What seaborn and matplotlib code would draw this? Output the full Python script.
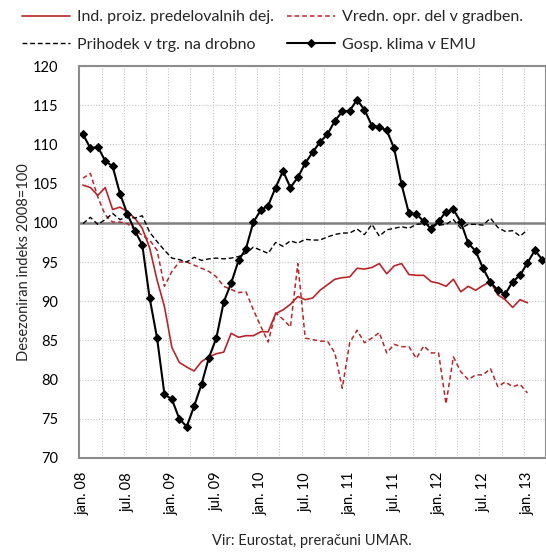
import numpy as np
import pandas as pd
import seaborn as sns
import matplotlib.pyplot as plt

# Monthly data jan.08 - mar.13, index 2008=100
months = pd.date_range('2008-01-01', '2013-03-01', freq='MS')

ind_proiz = [104.8, 104.5, 103.5, 104.5, 101.7, 102.0, 101.4, 100.6, 99.3, 96.8,
             92.7, 89.3, 84.1, 82.2, 81.6, 81.1, 82.3, 82.9, 83.3, 83.5,
             85.9, 85.4, 85.6, 85.6, 86.1, 86.1, 88.4, 88.9, 89.6, 90.6,
             90.2, 90.4, 91.4, 92.1, 92.8, 93.0, 93.1, 94.2, 94.1, 94.3,
             94.8, 93.5, 94.5, 94.8, 93.4, 93.3, 93.3, 92.5, 92.3, 91.9,
             92.8, 91.2, 91.9, 91.4, 92.0, 92.5, 90.8, 90.2, 89.2, 90.2,
             89.8]

vredn_gradb = [105.7, 106.3, 103.3, 101.0, 100.1, 100.1, 99.9, 99.1, 98.4, 97.8,
               96.5, 91.9, 93.8, 95.0, 95.0, 94.6, 94.2, 93.8, 93.1, 91.9,
               91.5, 91.1, 91.2, 88.9, 86.8, 84.8, 88.5, 87.7, 86.7, 94.8,
               85.3, 85.1, 84.9, 84.9, 83.4, 78.9, 84.7, 86.3, 84.7, 85.3,
               86.0, 83.4, 84.5, 84.2, 84.2, 82.7, 84.3, 83.4, 83.4, 76.9,
               82.9, 81.0, 80.0, 80.6, 80.6, 81.4, 79.1, 79.7, 79.1, 79.4,
               78.3]

prihodek = [99.9, 100.7, 99.8, 100.4, 101.2, 100.4, 100.8, 100.6, 100.9, 98.8,
            97.6, 96.5, 95.5, 95.3, 95.0, 95.6, 95.2, 95.4, 95.5, 95.4,
            95.5, 95.7, 96.1, 96.9, 96.5, 96.1, 97.5, 97.0, 97.7, 97.4,
            97.9, 97.8, 97.8, 98.2, 98.5, 98.7, 98.7, 99.2, 98.5, 99.8,
            98.3, 99.1, 99.3, 99.5, 99.3, 99.8, 99.9, 99.7, 99.7, 99.8,
            100.4, 99.3, 99.8, 99.8, 99.7, 100.6, 99.4, 98.9, 99.0, 98.3,
            99.1]

gosp_klima = [111.3, 109.5, 109.7, 107.9, 107.2, 103.7, 101.1, 99.0, 97.2, 90.4,
              85.3, 78.1, 77.5, 75.0, 74.0, 76.6, 79.4, 82.8, 85.3, 89.9,
              92.3, 95.2, 96.7, 100.1, 101.6, 102.2, 104.5, 106.6, 104.5, 105.8,
              107.6, 109.0, 110.3, 111.3, 113.0, 114.2, 114.3, 115.7, 114.4, 112.4,
              112.2, 111.8, 109.5, 104.9, 101.2, 101.1, 100.2, 99.2, 100.2, 101.4,
              101.7, 100.1, 97.4, 96.4, 94.2, 92.4, 91.4, 90.9, 92.5, 93.3,
              94.9, 96.5, 95.3]

month_names = ['jan.', 'jul.']
tick_labels = [f"{month_names[i % 2]} {8 + i // 2:02d}" for i in range(11)]

labels = ['Ind. proiz. predelovalnih dej.', 'Vredn. opr. del v gradben.',
          'Prihodek v trg. na drobno', 'Gosp. klima v EMU']

red = '#B8262C'

sns.set_style('white')
plt.rcParams['font.family'] = ['Lato', 'DejaVu Sans']

fig = plt.figure(figsize=(5.46, 5.52), dpi=100)
ax = fig.add_axes([0.1452, 0.1703, 0.8548, 0.7101])

idx = np.arange(len(months))
sns.lineplot(x=idx[:len(ind_proiz)], y=ind_proiz, ax=ax, color=red, lw=1.2,
             label=labels[0])
sns.lineplot(x=idx[:len(vredn_gradb)], y=vredn_gradb, ax=ax, color=red, lw=1.1,
             linestyle=(0, (3, 2)), label=labels[1])
sns.lineplot(x=idx[:len(prihodek)], y=prihodek, ax=ax, color='black', lw=1.0,
             linestyle=(0, (3.5, 2)), label=labels[2])
sns.lineplot(x=idx, y=gosp_klima, ax=ax, color='black', lw=1.5, marker='D',
             markersize=4.5, markeredgecolor='black', label=labels[3])

ax.set_xlim(-0.5, len(months) - 0.5)
ax.set_ylim(70, 120)
ax.set_yticks(np.arange(70, 121, 5))
ax.set_xticks(np.arange(0, 61, 6))
ax.set_xticklabels(tick_labels, rotation=90)
ax.set_xticks(np.arange(2.5, 60, 3), minor=True)

ax.grid(axis='y', which='major', color='#c4c4c4', linestyle=(0, (1, 1.5)), lw=0.8)
ax.grid(axis='x', which='minor', color='#c4c4c4', linestyle=(0, (1, 1.5)), lw=0.8)
ax.axhline(100, color='#808080', lw=1.8, zorder=1)
for s in ax.spines.values():
    s.set_color('#8c8c8c')
    s.set_linewidth(1.5)

ax.tick_params(axis='both', which='both', length=0, labelsize=10.5, colors='black')
ax.tick_params(axis='x', pad=10)
ax.tick_params(axis='y', pad=15)

ax.set_xlabel('')
ax.set_ylabel('Desezoniran indeks 2008=100', fontsize=10.5, labelpad=1)

# legend filled row by row: matplotlib fills columns first, so reorder
handles, hl = ax.get_legend_handles_labels()
order = [0, 2, 1, 3]
ax.legend([handles[i] for i in order], [hl[i] for i in order], ncol=2,
          loc='upper left', bbox_to_anchor=(0.04, 0.982),
          bbox_transform=fig.transFigure, frameon=False, fontsize=11.5,
          handlelength=3.0, handletextpad=0.45, columnspacing=0.8,
          labelspacing=0.85, borderaxespad=0, borderpad=0)

fig.text(0.572, 0.02, 'Vir: Eurostat, preračuni UMAR.', ha='center', va='center',
         fontsize=10.5)

fig.savefig('out.png', dpi=100)
